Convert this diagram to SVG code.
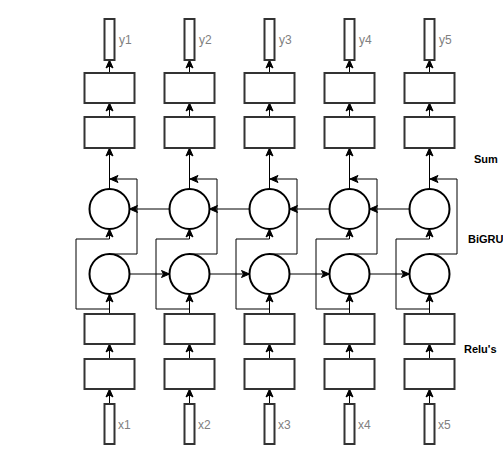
<svg xmlns="http://www.w3.org/2000/svg" width="503" height="459" viewBox="0 0 503 459">
<style>
.bx{fill:#fff;stroke:#333;stroke-width:2}
.cr{fill:#fff;stroke:#000;stroke-width:2}
.ln{fill:none;stroke:#000;stroke-width:1}
.lb{font-family:"Liberation Sans",Arial,sans-serif;font-size:12px;fill:#808080}
.sd{font-family:"Liberation Sans",Arial,sans-serif;font-size:11px;font-weight:bold;fill:#000}
</style>
<defs>
<marker id="ar" markerUnits="userSpaceOnUse" markerWidth="10" markerHeight="10" viewBox="0 0 10 10" refX="9" refY="5" orient="auto">
<path d="M1,1.5 L9,5 L1,8.5 L3,5 z" fill="#000" stroke="#000" stroke-width="1"/>
</marker>
</defs>
<rect width="503" height="459" fill="#fff"/>
<g id="connectors">
<path d="M109.5,73V60" class="ln" marker-end="url(#ar)"/>
<path d="M109.5,117V103" class="ln" marker-end="url(#ar)"/>
<path d="M109.5,189V148" class="ln" marker-end="url(#ar)"/>
<path d="M109.5,254H137V179H110" class="ln" marker-end="url(#ar)"/>
<path d="M109.5,314V294" class="ln" marker-end="url(#ar)"/>
<path d="M109.5,309H76V239H109.5V229" class="ln" marker-end="url(#ar)"/>
<path d="M109.5,359V344" class="ln" marker-end="url(#ar)"/>
<path d="M109.5,404V389" class="ln" marker-end="url(#ar)"/>
<path d="M129.5,274H169.5" class="ln" marker-end="url(#ar)"/>
<path d="M169.5,209H129.5" class="ln" marker-end="url(#ar)"/>

<path d="M189.5,73V60" class="ln" marker-end="url(#ar)"/>
<path d="M189.5,117V103" class="ln" marker-end="url(#ar)"/>
<path d="M189.5,189V148" class="ln" marker-end="url(#ar)"/>
<path d="M189.5,254H217V179H190" class="ln" marker-end="url(#ar)"/>
<path d="M189.5,314V294" class="ln" marker-end="url(#ar)"/>
<path d="M189.5,309H156V239H189.5V229" class="ln" marker-end="url(#ar)"/>
<path d="M189.5,359V344" class="ln" marker-end="url(#ar)"/>
<path d="M189.5,404V389" class="ln" marker-end="url(#ar)"/>
<path d="M209.5,274H249.5" class="ln" marker-end="url(#ar)"/>
<path d="M249.5,209H209.5" class="ln" marker-end="url(#ar)"/>

<path d="M269.5,73V60" class="ln" marker-end="url(#ar)"/>
<path d="M269.5,117V103" class="ln" marker-end="url(#ar)"/>
<path d="M269.5,189V148" class="ln" marker-end="url(#ar)"/>
<path d="M269.5,254H297V179H270" class="ln" marker-end="url(#ar)"/>
<path d="M269.5,314V294" class="ln" marker-end="url(#ar)"/>
<path d="M269.5,309H236V239H269.5V229" class="ln" marker-end="url(#ar)"/>
<path d="M269.5,359V344" class="ln" marker-end="url(#ar)"/>
<path d="M269.5,404V389" class="ln" marker-end="url(#ar)"/>
<path d="M289.5,274H329.5" class="ln" marker-end="url(#ar)"/>
<path d="M329.5,209H289.5" class="ln" marker-end="url(#ar)"/>

<path d="M349.5,73V60" class="ln" marker-end="url(#ar)"/>
<path d="M349.5,117V103" class="ln" marker-end="url(#ar)"/>
<path d="M349.5,189V148" class="ln" marker-end="url(#ar)"/>
<path d="M349.5,254H377V179H350" class="ln" marker-end="url(#ar)"/>
<path d="M349.5,314V294" class="ln" marker-end="url(#ar)"/>
<path d="M349.5,309H316V239H349.5V229" class="ln" marker-end="url(#ar)"/>
<path d="M349.5,359V344" class="ln" marker-end="url(#ar)"/>
<path d="M349.5,404V389" class="ln" marker-end="url(#ar)"/>
<path d="M369.5,274H409.5" class="ln" marker-end="url(#ar)"/>
<path d="M409.5,209H369.5" class="ln" marker-end="url(#ar)"/>

<path d="M429.5,73V60" class="ln" marker-end="url(#ar)"/>
<path d="M429.5,117V103" class="ln" marker-end="url(#ar)"/>
<path d="M429.5,189V148" class="ln" marker-end="url(#ar)"/>
<path d="M429.5,254H457V179H430" class="ln" marker-end="url(#ar)"/>
<path d="M429.5,314V294" class="ln" marker-end="url(#ar)"/>
<path d="M429.5,309H396V239H429.5V229" class="ln" marker-end="url(#ar)"/>
<path d="M429.5,359V344" class="ln" marker-end="url(#ar)"/>
<path d="M429.5,404V389" class="ln" marker-end="url(#ar)"/>
</g>
<g id="col1">
<rect class="bx" x="104.5" y="19" width="10" height="41"/><text class="lb" x="119" y="44">y1</text>
<rect class="bx" x="84.5" y="73" width="50" height="30"/>
<rect class="bx" x="84.5" y="117" width="50" height="31"/>
<circle class="cr" cx="109.5" cy="209" r="20"/>
<circle class="cr" cx="109.5" cy="274" r="20"/>
<rect class="bx" x="84.5" y="314" width="50" height="30"/>
<rect class="bx" x="84.5" y="359" width="50" height="30"/>
<rect class="bx" x="104.5" y="404" width="10" height="40"/><text class="lb" x="118" y="429">x1</text>
</g>
<g id="col2">
<rect class="bx" x="184.5" y="19" width="10" height="41"/><text class="lb" x="199" y="44">y2</text>
<rect class="bx" x="164.5" y="73" width="50" height="30"/>
<rect class="bx" x="164.5" y="117" width="50" height="31"/>
<circle class="cr" cx="189.5" cy="209" r="20"/>
<circle class="cr" cx="189.5" cy="274" r="20"/>
<rect class="bx" x="164.5" y="314" width="50" height="30"/>
<rect class="bx" x="164.5" y="359" width="50" height="30"/>
<rect class="bx" x="184.5" y="404" width="10" height="40"/><text class="lb" x="198" y="429">x2</text>
</g>
<g id="col3">
<rect class="bx" x="264.5" y="19" width="10" height="41"/><text class="lb" x="279" y="44">y3</text>
<rect class="bx" x="244.5" y="73" width="50" height="30"/>
<rect class="bx" x="244.5" y="117" width="50" height="31"/>
<circle class="cr" cx="269.5" cy="209" r="20"/>
<circle class="cr" cx="269.5" cy="274" r="20"/>
<rect class="bx" x="244.5" y="314" width="50" height="30"/>
<rect class="bx" x="244.5" y="359" width="50" height="30"/>
<rect class="bx" x="264.5" y="404" width="10" height="40"/><text class="lb" x="278" y="429">x3</text>
</g>
<g id="col4">
<rect class="bx" x="344.5" y="19" width="10" height="41"/><text class="lb" x="359" y="44">y4</text>
<rect class="bx" x="324.5" y="73" width="50" height="30"/>
<rect class="bx" x="324.5" y="117" width="50" height="31"/>
<circle class="cr" cx="349.5" cy="209" r="20"/>
<circle class="cr" cx="349.5" cy="274" r="20"/>
<rect class="bx" x="324.5" y="314" width="50" height="30"/>
<rect class="bx" x="324.5" y="359" width="50" height="30"/>
<rect class="bx" x="344.5" y="404" width="10" height="40"/><text class="lb" x="358" y="429">x4</text>
</g>
<g id="col5">
<rect class="bx" x="424.5" y="19" width="10" height="41"/><text class="lb" x="439" y="44">y5</text>
<rect class="bx" x="404.5" y="73" width="50" height="30"/>
<rect class="bx" x="404.5" y="117" width="50" height="31"/>
<circle class="cr" cx="429.5" cy="209" r="20"/>
<circle class="cr" cx="429.5" cy="274" r="20"/>
<rect class="bx" x="404.5" y="314" width="50" height="30"/>
<rect class="bx" x="404.5" y="359" width="50" height="30"/>
<rect class="bx" x="424.5" y="404" width="10" height="40"/><text class="lb" x="438" y="429">x5</text>
</g>
<g id="labels">
<text class="sd" x="474" y="163">Sum</text>
<text class="sd" x="468" y="243">BiGRU</text>
<text class="sd" x="464" y="353">Relu's</text>
</g>
</svg>
